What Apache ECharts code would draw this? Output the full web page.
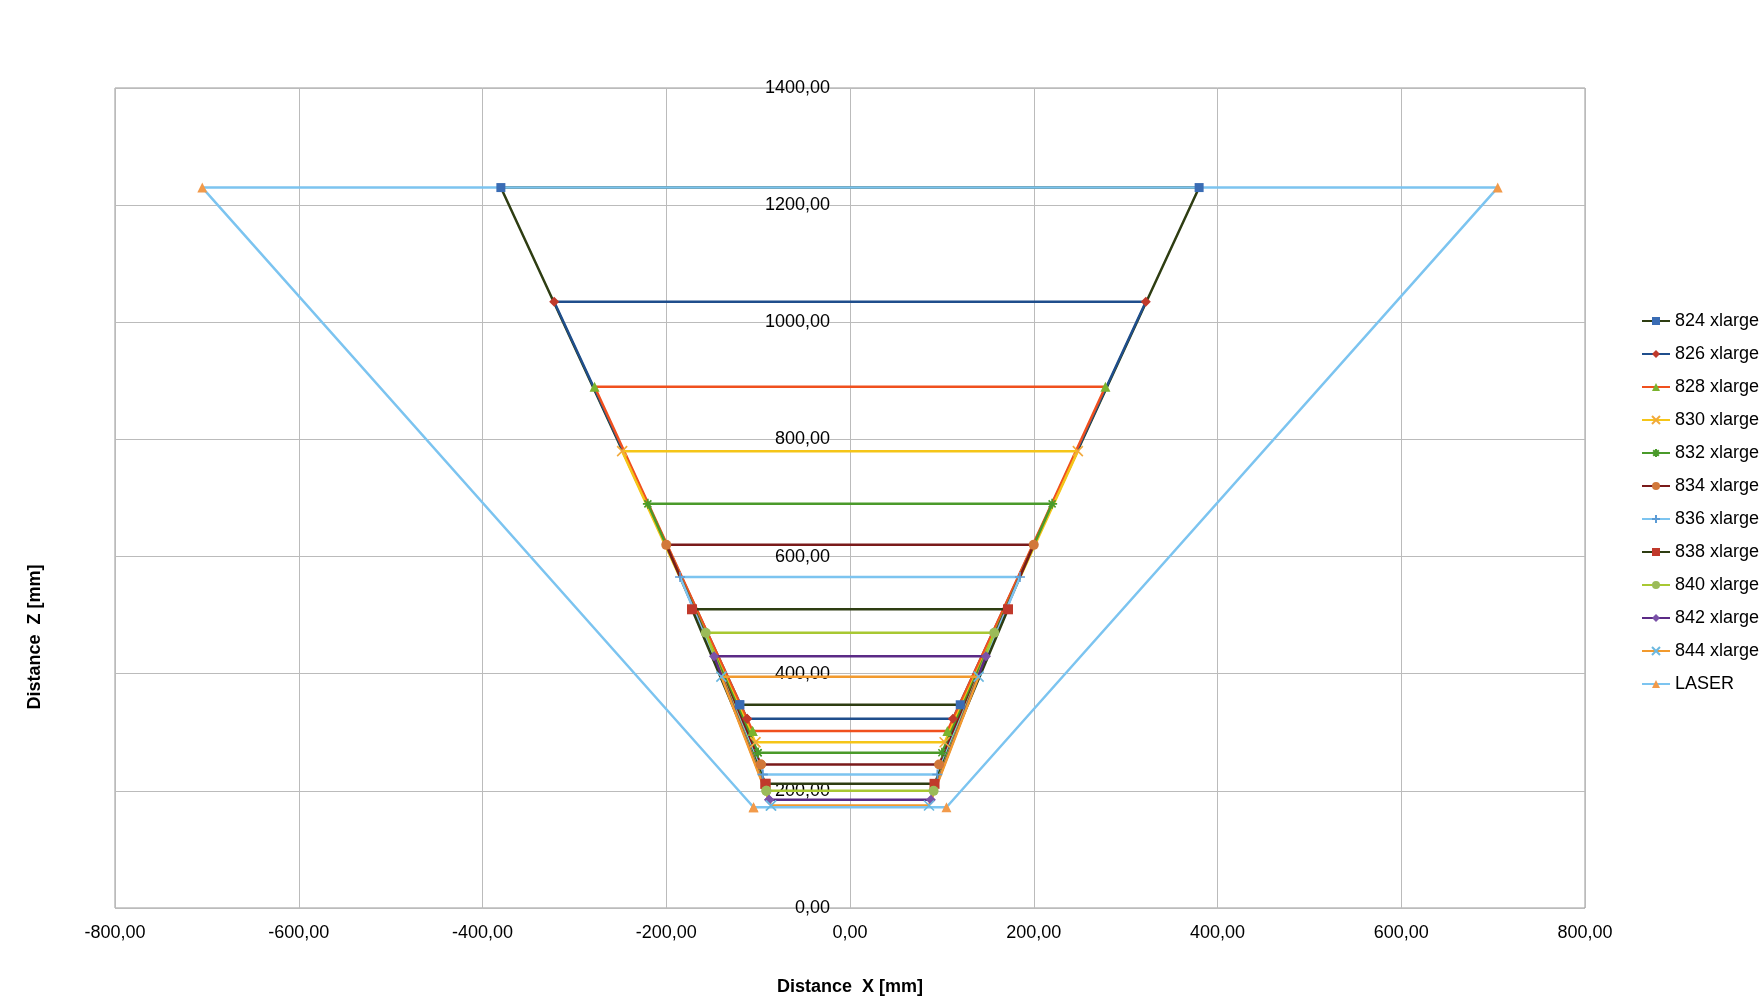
<!DOCTYPE html>
<html><head><meta charset="utf-8">
<script src="https://cdn.jsdelivr.net/npm/echarts@6/dist/echarts.min.js"></script>
<style>html,body{margin:0;padding:0;background:#fff}#c{width:1764px;height:1006px}</style>
</head><body><div id="c"></div>
<script>
var names = ['824 xlarge','826 xlarge','828 xlarge','830 xlarge','832 xlarge','834 xlarge','836 xlarge','838 xlarge','840 xlarge','842 xlarge','844 xlarge','LASER'];
var topZ = [1230,1035,890,780,690,620,565,510,470,430,395,1230];
var topX = [380,322,278,248,220,200,185,172,157,148,140,705];
var botZ = [347,323,302,283,265,245,228,212,200,185,175,172];
var botX = [120,112,106,103,100,97,95,92,91,88,86,105];
var lineColors = ['#2e3d12','#1f4e8c','#f0501e','#f5c518','#4a9a2a','#7a1a1a','#7cc4f0','#2e3d12','#a8c832','#5b2a86','#f29a2e','#7cc4f0'];
var markColors = ['#3a6cb4','#c0392b','#7ab32e','#f2a93b','#4a9a2a','#d2783a','#5b9bd5','#c0392b','#9bbb59','#7a52a8','#6bb8e0','#f29a4a'];
var X = 'path://M0,0L10,10M10,0L0,10';
var STAR = 'path://M5,0L5,10M0,5L10,5M1.5,1.5L8.5,8.5M8.5,1.5L1.5,8.5';
var PLUS = 'path://M5,0L5,10M0,5L10,5';
var DASH = 'path://M0,4L10,4L10,6L0,6Z';
var symbols = ['rect','diamond','triangle',X,STAR,'circle',PLUS,DASH,'circle','diamond',X,'triangle'];
var series = names.map(function(n,i){
  var s = symbols[i], stroke = (s===X||s===STAR||s===PLUS);
  return {
    name:n, type:'line', symbol:s, symbolSize: s==='rect'?9:10,
    lineStyle:{color:lineColors[i],width:2.5},
    itemStyle: stroke ? {color:'none',borderColor:markColors[i],borderWidth:1.6} : {color:markColors[i]},
    data:[[-botX[i],botZ[i]],[-topX[i],topZ[i]],[topX[i],topZ[i]],[botX[i],botZ[i]],[-botX[i],botZ[i]]],
    animation:false
  };
});
var fmt = function(v){return v.toFixed(2).replace('.',',');};
echarts.init(document.getElementById('c')).setOption({
  animation:false,
  grid:{left:115,right:179,top:88,bottom:98,show:true,borderColor:'#999',borderWidth:1},
  xAxis:{type:'value',min:-800,max:800,interval:200,
    axisLabel:{formatter:fmt,fontSize:18,color:'#000',margin:16,fontFamily:'Liberation Sans'},
    axisLine:{show:false},axisTick:{show:false},
    splitLine:{lineStyle:{color:'#bbb'}},
    name:'Distance  X [mm]',nameLocation:'middle',nameGap:70,
    nameTextStyle:{fontSize:18,fontWeight:'bold',color:'#000',fontFamily:'Liberation Sans'}},
  yAxis:{type:'value',min:0,max:1400,interval:200,offset:-735,
    axisLine:{show:false},axisTick:{show:false},
    axisLabel:{formatter:fmt,fontSize:18,color:'#000',margin:20,verticalAlign:'middle',fontFamily:'Liberation Sans'},
    splitLine:{lineStyle:{color:'#bbb'}}},
  graphic:[{type:'text',left:24,top:560,rotation:Math.PI/2,
    style:{text:'Distance  Z [mm]',font:'bold 18px Liberation Sans',fill:'#000',align:'center',verticalAlign:'middle'},
    x:35,y:637,left:null,top:null}],
  legend:{orient:'vertical',left:1636,top:307,itemGap:15,itemWidth:28,itemHeight:10,
    textStyle:{fontSize:18,color:'#000',fontFamily:'Liberation Sans'},data:names},
  series:series
});
</script></body></html>
